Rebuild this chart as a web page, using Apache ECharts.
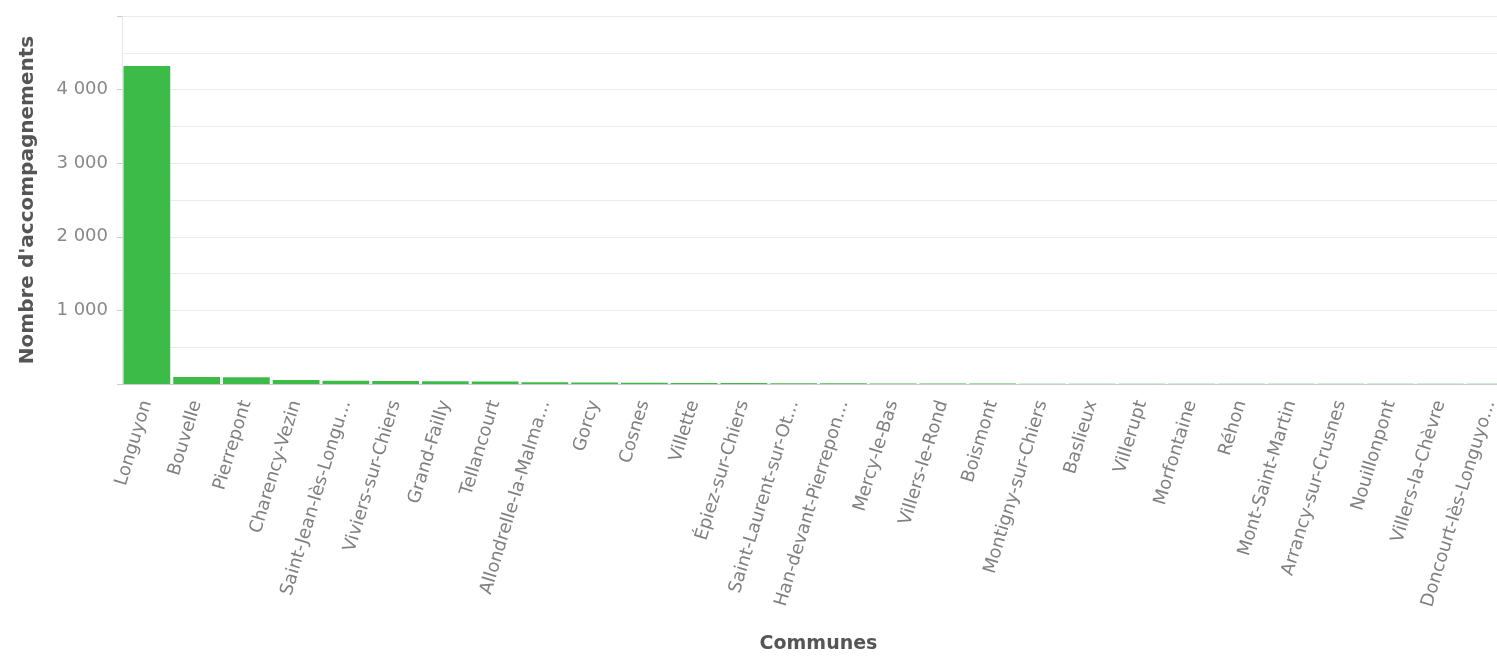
<!DOCTYPE html>
<html><head><meta charset="utf-8">
<script src="https://cdn.jsdelivr.net/npm/echarts@6/dist/echarts.min.js"></script>
<style>html,body{margin:0;padding:0;background:#fff}#c{width:1497px;height:657px}</style>
</head><body><div id="c"></div>
<script>
const categories = ["Longuyon","Bouvelle","Pierrepont","Charency-Vezin","Saint-Jean-lès-Longu...","Viviers-sur-Chiers","Grand-Failly","Tellancourt","Allondrelle-la-Malma...","Gorcy","Cosnes","Villette","Épiez-sur-Chiers","Saint-Laurent-sur-Ot...","Han-devant-Pierrepon...","Mercy-le-Bas","Villers-le-Rond","Boismont","Montigny-sur-Chiers","Baslieux","Villerupt","Morfontaine","Réhon","Mont-Saint-Martin","Arrancy-sur-Crusnes","Nouillonpont","Villers-la-Chèvre","Doncourt-lès-Longuyo..."];
const values = [4320,95,92,55,45,40,38,33,25,20,16,14,12,10,9,8,7,6,5,5,4,4,3,3,3,2,2,2];
const yTicks = [1000,2000,3000,4000];
const chart = echarts.init(document.getElementById('c'));
chart.setOption({
  animation:false,
  grid:{left:122,width:1393,top:16,bottom:273,containLabel:false,outerBoundsMode:'none'},
  xAxis:{type:'category',data:categories,
    name:'Communes',nameLocation:'middle',nameGap:251,
    nameTextStyle:{fontFamily:'DejaVu Sans',fontSize:19,fontWeight:'bold',color:'#555'},
    axisLine:{lineStyle:{color:'#ccc'}},
    axisTick:{alignWithLabel:true,lineStyle:{color:'#ccc'},length:5},
    axisLabel:{interval:0,rotate:73,margin:17,color:'#808080',fontSize:18,fontFamily:'DejaVu Sans'}},
  yAxis:{type:'value',min:0,max:5000,interval:1000,
    name:"Nombre d'accompagnements",nameLocation:'middle',nameGap:84,
    nameTextStyle:{fontFamily:'DejaVu Sans',fontSize:20,fontWeight:'bold',color:'#555'},
    axisLine:{show:true,lineStyle:{color:'#e6e6e6'}},
    axisTick:{show:true,length:5,lineStyle:{color:'#ccc'}},
    axisLabel:{color:'#888',fontSize:18,fontFamily:'DejaVu Sans',margin:14,
      formatter:v=>yTicks.includes(v)?String(v).replace(/\B(?=(\d{3})+(?!\d))/g,' '):''},
    splitLine:{lineStyle:{color:'#ebebeb'}},
    minorTick:{show:false,splitNumber:2},
    minorSplitLine:{show:true,lineStyle:{color:'#ebebeb'}}},
  series:[{type:'bar',data:values,barCategoryGap:'6%',itemStyle:{color:'#3dbb49'}}]
});
</script></body></html>
